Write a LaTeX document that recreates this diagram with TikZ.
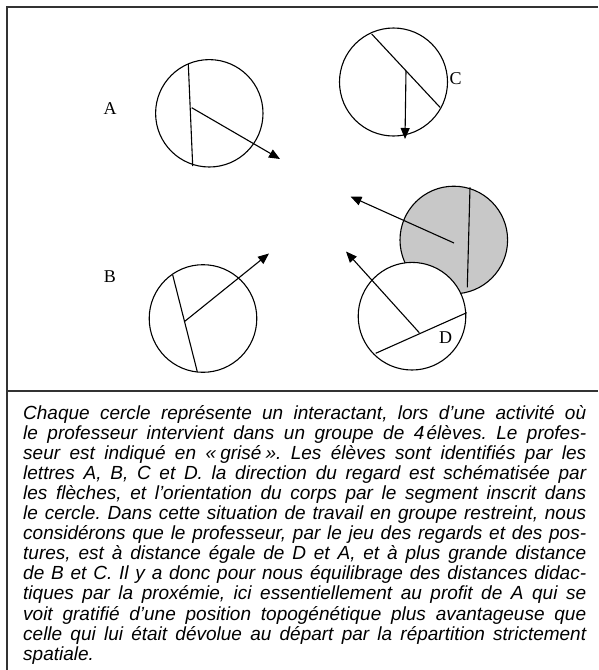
\documentclass[tikz,border=0pt]{standalone}
\usepackage{fontspec}
\setmainfont{Liberation Serif}
\newfontfamily\capfont{Liberation Sans}
\usetikzlibrary{arrows.meta}
\tikzset{
  person/.style={draw=black, line width=1.1pt},
  seg/.style={draw=black, line width=1.1pt},
  gaze/.style={draw=black, line width=1.1pt, -{Triangle[length=11pt,width=9pt]}},
  lbl/.style={font=\fontsize{18}{20}\selectfont, inner sep=0pt},
  frameline/.style={draw=black!80, line width=1.5pt}
}
\begin{document}
\begin{tikzpicture}[x=1pt,y=-1pt]
\useasboundingbox (0,0) rectangle (598,670);
\fill[white] (0,0) rectangle (598,670);
% frame
\coordinate (ftl) at (7,7);
\coordinate (ftr) at (598,7);
\coordinate (fbl) at (7,670);
\coordinate (dl) at (7,391);
\coordinate (dr) at (598,391);
\draw[frameline] (ftr) -- (ftl) -- (fbl);
\draw[frameline] (dl) -- (dr);

% A
\coordinate (cA) at (209.3,113.3);
\draw[person, fill=white] (cA) circle[radius=53.7pt];
\coordinate (A1) at (188.3,64);
\coordinate (A2) at (192.7,166);
\draw[seg] (A1) -- (A2);
\coordinate (As) at (191.7,107.7);
\coordinate (At) at (280,159);
\draw[gaze] (As) -- (At);
\node[lbl] (lA) at (110,108.5) {A};

% C
\coordinate (cC) at (393.5,82);
\draw[person, fill=white] (cC) circle[radius=54pt];
\coordinate (C1) at (371.7,34);
\coordinate (C2) at (440,107.3);
\draw[seg] (C1) -- (C2);
\coordinate (Cs) at (406,70.7);
\coordinate (Ct) at (405,139);
\draw[gaze] (Cs) -- (Ct);
\node[lbl] (lC) at (455.5,78.5) {C};

% B
\coordinate (cB) at (203,318.5);
\draw[person, fill=white] (cB) circle[radius=53.8pt];
\coordinate (B1) at (172.7,275);
\coordinate (B2) at (197.3,371.7);
\draw[seg] (B1) -- (B2);
\coordinate (Bs) at (184.3,321.7);
\coordinate (Bt) at (269,253.5);
\draw[gaze] (Bs) -- (Bt);
\node[lbl] (lB) at (110,277) {B};

% teacher (grey)
\coordinate (cP) at (453.8,240);
\draw[person, fill={rgb,255:red,200;green,200;blue,200}] (cP) circle[radius=53.8pt];
\coordinate (P1) at (470,187.3);
\coordinate (P2) at (467.3,287.3);
\draw[seg] (P1) -- (P2);
\coordinate (Ps) at (454,243);
\coordinate (Pt) at (350.5,196.5);
\draw[gaze] (Ps) -- (Pt);

% D
\coordinate (cD) at (412,316.2);
\draw[person, fill=white] (cD) circle[radius=53.8pt];
\coordinate (D1) at (375.7,353.3);
\coordinate (D2) at (466.7,312.7);
\draw[seg] (D1) -- (D2);
\coordinate (Ds) at (419.3,332.7);
\coordinate (Dt) at (346,251.5);
\draw[gaze] (Ds) -- (Dt);
\node[lbl] (lD) at (445.5,337.5) {D};

% caption
\node[anchor=base west, inner sep=0pt] (cap) at (23,419) {\parbox[t]{563pt}{\capfont\itshape\fontsize{19}{20.1}\selectfont
\parindent=0pt\frenchspacing\emergencystretch=0pt\hbadness=10000\hfuzz=20pt
Chaque cercle représente un interactant, lors d’une activité où\linebreak
le professeur intervient dans un groupe de 4\hspace{0.12em}élèves. Le profes-\linebreak
seur est indiqué en «\hspace{0.22em}grisé\hspace{0.22em}». Les élèves sont identifiés par les\linebreak
lettres A, B, C et D. la direction du regard est schématisée par\linebreak
les flèches, et l’orientation du corps par le segment inscrit dans\linebreak
le cercle. Dans cette situation de travail en groupe restreint, nous\linebreak
considérons que le professeur, par le jeu des regards et des pos-\linebreak
tures, est à distance égale de D et A, et à plus grande distance\linebreak
de B et C. Il y a donc pour nous équilibrage des distances didac-\linebreak
tiques par la proxémie, ici essentiellement au profit de A qui se\linebreak
voit gratifié d’une position topogénétique plus avantageuse que\linebreak
celle qui lui était dévolue au départ par la répartition strictement\linebreak
spatiale.}};
\end{tikzpicture}
\end{document}
